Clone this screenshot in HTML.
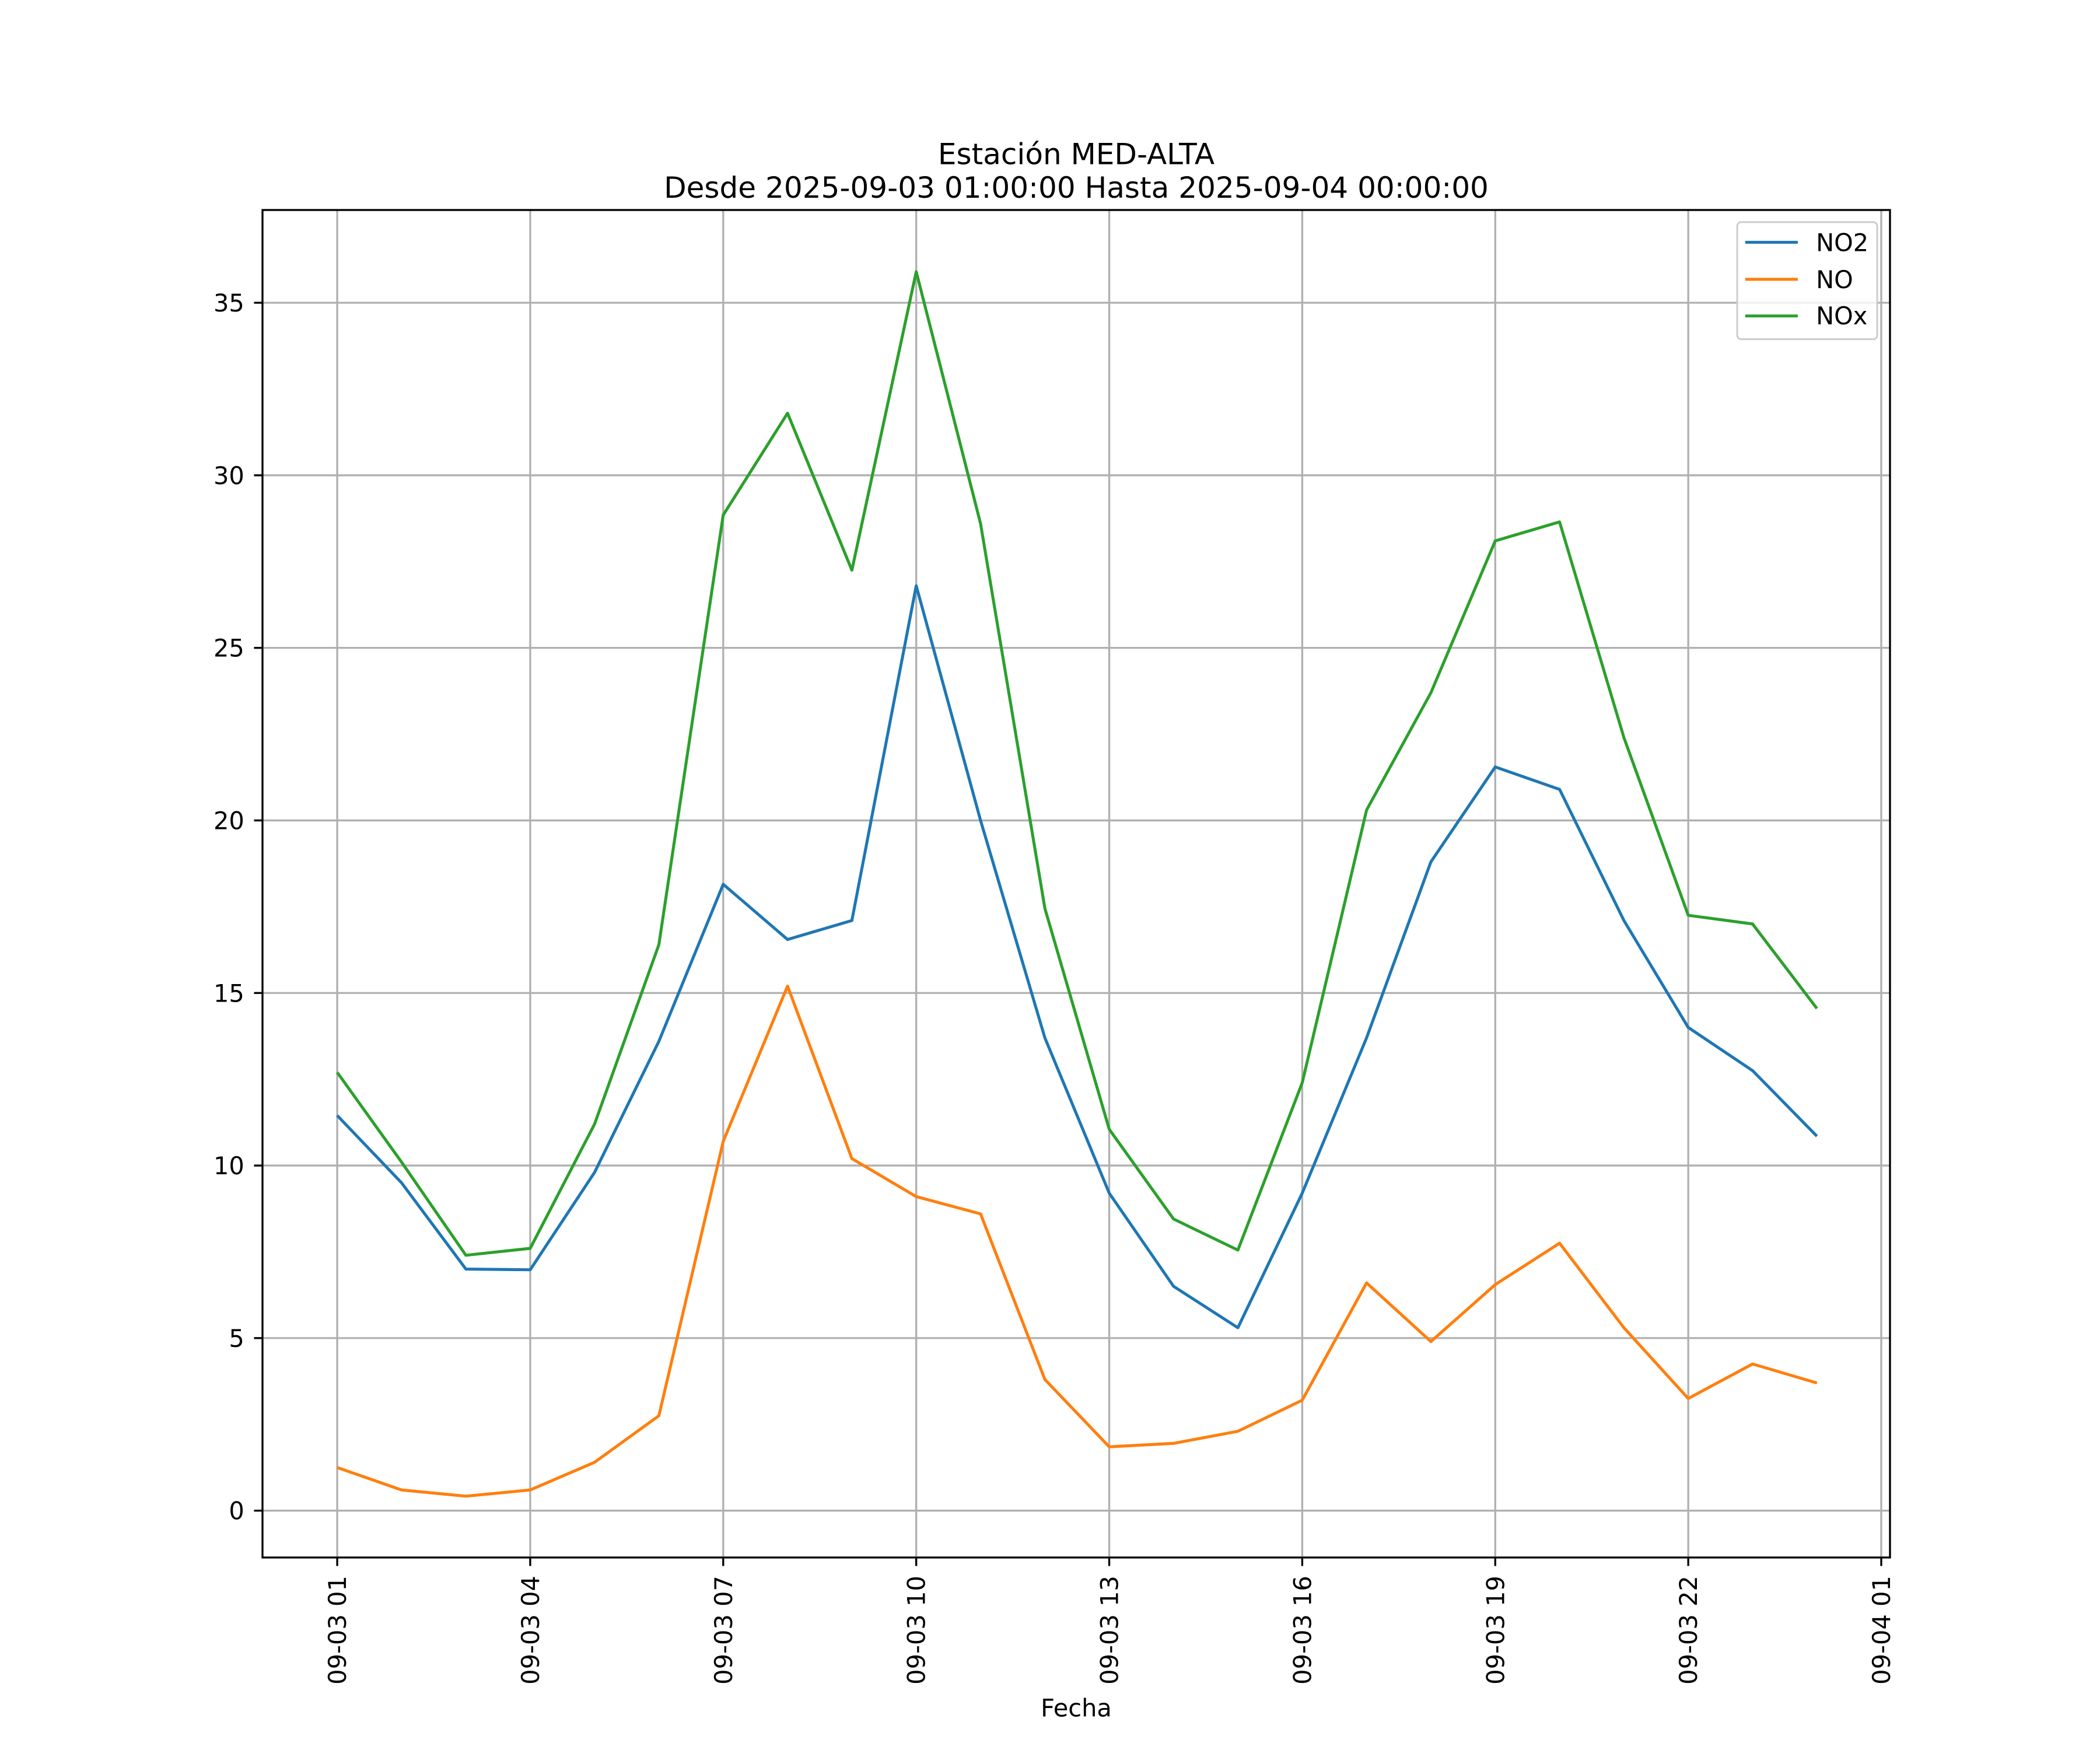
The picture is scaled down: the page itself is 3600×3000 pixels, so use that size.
<!DOCTYPE html>
<html><head><meta charset="utf-8"><style>
html,body{margin:0;padding:0;background:#fff}
svg{display:block}
text{font-family:"DejaVu Sans","Liberation Sans",sans-serif;fill:#000}
</style></head><body>
<svg id="chart" width="3600" height="3000" viewBox="0 0 1560 1300" xmlns="http://www.w3.org/2000/svg">
<rect width="1560" height="1300" fill="#fff"/>
<text x="799.5" y="122" font-size="21.7" text-anchor="middle">Estación MED-ALTA</text>
<text x="799.5" y="147" font-size="21.7" text-anchor="middle">Desde 2025-09-03 01:00:00 Hasta 2025-09-04 00:00:00</text>
<g id="grid"></g>
<g id="series"></g>
<rect x="195" y="156" width="1209" height="1001" fill="none" stroke="#000" stroke-width="1.44"/>
<g id="ticks"></g>
<text x="799.5" y="1275" font-size="18" text-anchor="middle">Fecha</text>
<g>
<rect x="1290.5" y="165" width="104" height="87" rx="3" fill="#fff" fill-opacity="0.8" stroke="#ccc" stroke-width="1.3"/>
<g><line x1="1296.5" y1="180" x2="1335.5" y2="180" stroke="#1f77b4" stroke-width="2.2"/><text x="1349" y="186.5" font-size="18">NO2</text></g>
<g><line x1="1296.5" y1="207.5" x2="1335.5" y2="207.5" stroke="#ff7f0e" stroke-width="2.2"/><text x="1349" y="214" font-size="18">NO</text></g>
<g><line x1="1296.5" y1="234.7" x2="1335.5" y2="234.7" stroke="#2ca02c" stroke-width="2.2"/><text x="1349" y="241" font-size="18">NOx</text></g>
</g>
</svg>
<script>
const hours = [1,2,3,4,5,6,7,8,9,10,11,12,13,14,15,16,17,18,19,20,21,22,23,24];
const no2 = [11.45,9.5,7.0,6.98,9.8,13.6,18.15,16.55,17.1,26.8,20.0,13.7,9.2,6.5,5.3,9.2,13.7,18.8,21.55,20.9,17.1,14.0,12.75,10.85];
const no = [1.25,0.6,0.42,0.6,1.4,2.75,10.7,15.2,10.2,9.1,8.6,3.8,1.85,1.95,2.3,3.2,6.6,4.9,6.55,7.75,5.3,3.25,4.25,3.7];
const nox = [12.7,10.1,7.4,7.6,11.2,16.4,28.85,31.8,27.25,35.9,28.6,17.45,11.05,8.45,7.55,12.4,20.3,23.7,28.1,28.65,22.4,17.25,17.0,14.55];
const yTicks = [0,5,10,15,20,25,30,35];
const xTickHours = [1,4,7,10,13,16,19,22,25];
const xTickLabels = ["09-03 01","09-03 04","09-03 07","09-03 10","09-03 13","09-03 16","09-03 19","09-03 22","09-04 01"];

const NS="http://www.w3.org/2000/svg";
function xs(h){return 250.5+(h-1)*(1397.5-250.5)/24;}
function ys(v){return 1122.2-v*(1122.2-224.9)/35;}
function mk(tag,attrs,parent){const e=document.createElementNS(NS,tag);for(const k in attrs)e.setAttribute(k,attrs[k]);parent.appendChild(e);return e;}
const grid=document.getElementById('grid'),ticks=document.getElementById('ticks'),series=document.getElementById('series');
yTicks.forEach(v=>{
  const y=ys(v);
  const g=mk('line',{x1:195,x2:1404,y1:y,y2:y,stroke:'#b0b0b0','stroke-width':1.44},grid);
  
  
  mk('line',{x1:188.7,x2:195,y1:y,y2:y,stroke:'#000','stroke-width':1.44},ticks);
  const t=mk('text',{x:181.5,y:y+6.5,'font-size':18,'text-anchor':'end'},ticks);
  t.textContent=v;
  
  
});
xTickHours.forEach((h,i)=>{
  const x=xs(h);
  const g=mk('line',{x1:x,x2:x,y1:156,y2:1157,stroke:'#b0b0b0','stroke-width':1.44},grid);
  
  
  mk('line',{x1:x,x2:x,y1:1157,y2:1163.3,stroke:'#000','stroke-width':1.44},ticks);
  const t=mk('text',{x:0,y:0,'font-size':18,'text-anchor':'end',transform:`translate(${x+6.5},1170.5) rotate(-90)`},ticks);
  t.textContent=xTickLabels[i];
  
  
});
[[no2,'#1f77b4','line-no2'],[no,'#ff7f0e','line-no'],[nox,'#2ca02c','line-nox']].forEach(([d,c,n])=>{
  const p=mk('polyline',{points:d.map((v,i)=>xs(hours[i])+','+ys(v)).join(' '),fill:'none',stroke:c,'stroke-width':2.2,'stroke-linejoin':'round'},series);
  
  
});
</script>
</body></html>
